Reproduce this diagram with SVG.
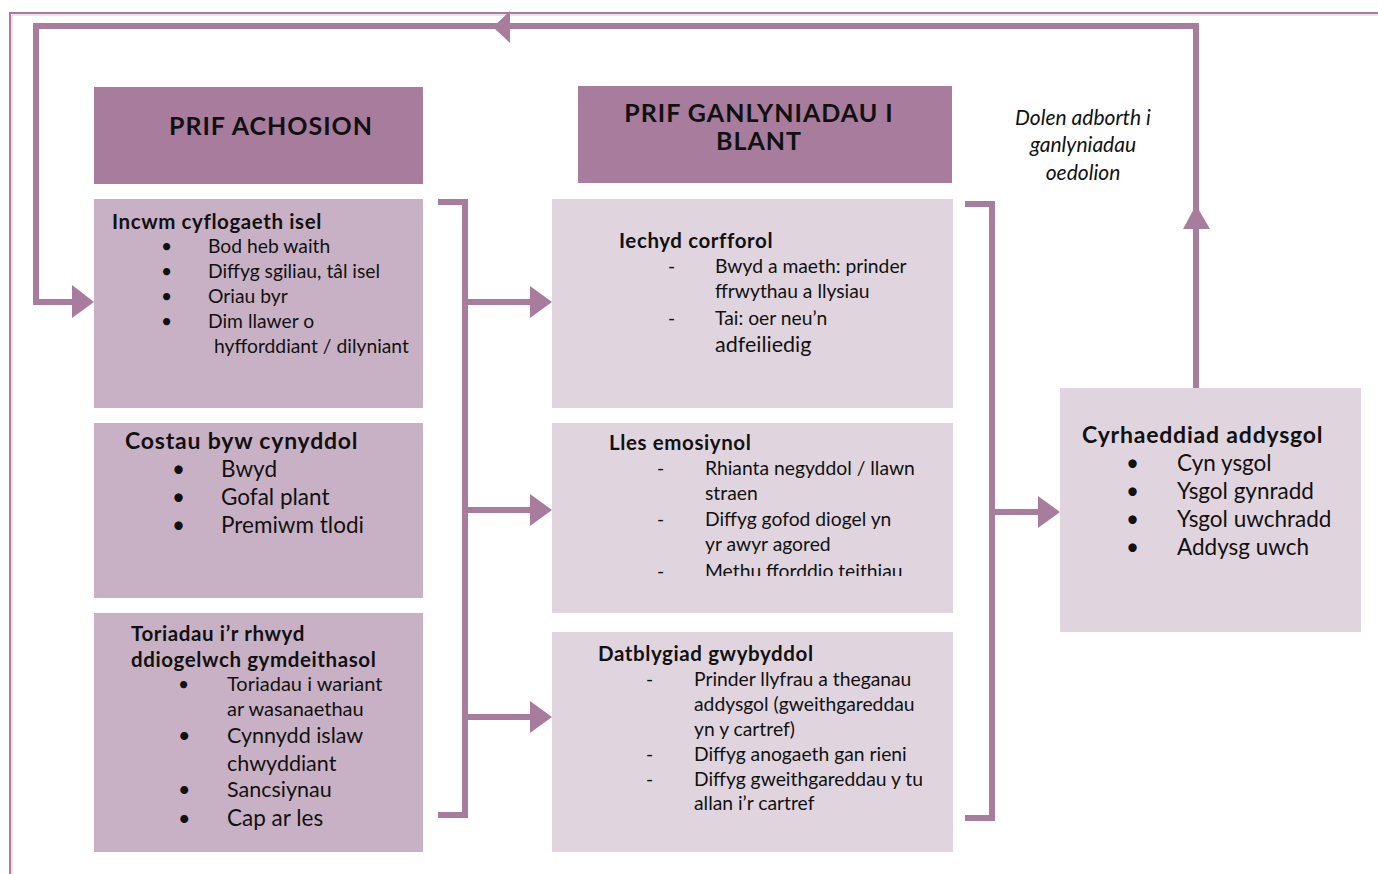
<svg xmlns="http://www.w3.org/2000/svg" width="1378" height="874" viewBox="0 0 1378 874">
<style>
text{font-family:Lato,"Open Sans","Liberation Sans",sans-serif;fill:#111}
.hd{font-weight:bold;font-size:25px;letter-spacing:1px}
.bt{font-weight:bold;font-size:20.5px;letter-spacing:0.6px}
.bt2{font-weight:bold;font-size:23px;letter-spacing:0.8px}
.it{font-size:19.3px}
.it3{font-size:20px}
.it4{font-size:21.5px}
.it2{font-size:22.5px}
.dk{fill:#a87c9c}
.lt{fill:#c9b1c5}
.pl{fill:#e0d5de}
.ln{fill:none;stroke:#a87c9c;stroke-width:6}
.ah{fill:#a87c9c}
.lb{font-style:italic;font-size:21px}
</style>
<defs>
<clipPath id="clipLles"><rect x="552" y="423" width="401" height="153"/></clipPath>
</defs>
<rect width="1378" height="874" fill="#fff"/>
<g id="frame">
<path d="M10,874 V13 H1378" fill="none" stroke="#a87c9c" stroke-width="2"/>
<path d="M12,874 V15 H1378" fill="none" stroke="#d9c6d4" stroke-width="1"/>
</g>
<g id="connectors">
<path class="ln" d="M1196,388 V26 H36 V302 H74"/>
<polygon class="ah" points="510,11 493,27 510,43"/>
<polygon class="ah" points="1196,205 1183,229 1210,229"/>
<polygon class="ah" points="72,285 94,302 72,318"/>
<path class="ln" d="M438,202 H465 V815 H438"/>
<path class="ln" d="M465,302 H532 M465,510 H532 M465,717 H532"/>
<polygon class="ah" points="530,286 552,302 530,318"/>
<polygon class="ah" points="530,494 552,510 530,526"/>
<polygon class="ah" points="530,701 552,717 530,733"/>
<path class="ln" d="M965,204 H992 V818 H965"/>
<path class="ln" d="M992,512 H1040"/>
<polygon class="ah" points="1038,496 1060,512 1038,528"/>
<text class="lb" x="1083" y="125" text-anchor="middle">Dolen adborth i</text>
<text class="lb" x="1083" y="152" text-anchor="middle">ganlyniadau</text>
<text class="lb" x="1083" y="180" text-anchor="middle">oedolion</text>
</g>
<g id="hdr-achosion">
<rect class="dk" x="94" y="87" width="329" height="97"/>
<text class="hd" x="271" y="135" text-anchor="middle">PRIF ACHOSION</text>
</g>
<g id="hdr-ganlyniadau">
<rect class="dk" x="578" y="86" width="374" height="97"/>
<text class="hd" x="759" y="122" text-anchor="middle">PRIF GANLYNIADAU I</text>
<text class="hd" x="759" y="150" text-anchor="middle">BLANT</text>
</g>
<g id="incwm">
<rect class="lt" x="94" y="199" width="329" height="209"/>
<text class="bt" x="112" y="229">Incwm cyflogaeth isel</text>
<text class="it" x="161" y="253">•</text><text class="it" x="208" y="253">Bod heb waith</text>
<text class="it" x="161" y="278">•</text><text class="it" x="208" y="278">Diffyg sgiliau, tâl isel</text>
<text class="it" x="161" y="303">•</text><text class="it" x="208" y="303">Oriau byr</text>
<text class="it" x="161" y="328">•</text><text class="it" x="208" y="328">Dim llawer o</text>
<text class="it" x="214" y="353">hyfforddiant / dilyniant</text>
</g>
<g id="costau">
<rect class="lt" x="94" y="423" width="329" height="175"/>
<text class="bt2" x="125" y="449">Costau byw cynyddol</text>
<text class="it2" x="172" y="477">•</text><text class="it2" x="221" y="477">Bwyd</text>
<text class="it2" x="172" y="505">•</text><text class="it2" x="221" y="505">Gofal plant</text>
<text class="it2" x="172" y="533">•</text><text class="it2" x="221" y="533">Premiwm tlodi</text>
</g>
<g id="toriadau">
<rect class="lt" x="94" y="613" width="329" height="239"/>
<text class="bt" x="131" y="641">Toriadau i’r rhwyd</text>
<text class="bt" x="131" y="667">ddiogelwch gymdeithasol</text>
<text class="it" x="178" y="691">•</text><text class="it3" x="227" y="691">Toriadau i wariant</text>
<text class="it3" x="227" y="716">ar wasanaethau</text>
<text class="it4" x="178" y="743">•</text><text class="it4" x="227" y="743">Cynnydd islaw</text>
<text class="it4" x="227" y="771">chwyddiant</text>
<text class="it4" x="178" y="797">•</text><text class="it4" x="227" y="797">Sancsiynau</text>
<text class="it4" x="178" y="826">•</text><text class="it2" x="227" y="826">Cap ar les</text>
</g>
<g id="iechyd">
<rect class="pl" x="552" y="199" width="401" height="209"/>
<text class="bt" x="619" y="248">Iechyd corfforol</text>
<text class="it" x="668" y="273">-</text><text class="it" x="715" y="273">Bwyd a maeth: prinder</text>
<text class="it" x="715" y="298">ffrwythau a llysiau</text>
<text class="it" x="668" y="325">-</text><text class="it" x="715" y="325">Tai: oer neu’n</text>
<text class="it4" x="715" y="352">adfeiliedig</text>
</g>
<g id="lles">
<rect class="pl" x="552" y="423" width="401" height="190"/>
<text class="bt" x="609" y="450">Lles emosiynol</text>
<text class="it" x="657" y="475">-</text><text class="it" x="705" y="475">Rhianta negyddol / llawn</text>
<text class="it" x="705" y="500">straen</text>
<text class="it" x="657" y="526">-</text><text class="it" x="705" y="526">Diffyg gofod diogel yn</text>
<text class="it" x="705" y="551">yr awyr agored</text>
<g clip-path="url(#clipLles)">
<text class="it" x="657" y="578">-</text><text class="it" x="705" y="578">Methu fforddio teithiau</text>
</g>
</g>
<g id="datblygiad">
<rect class="pl" x="552" y="632" width="401" height="220"/>
<text class="bt" x="598" y="661">Datblygiad gwybyddol</text>
<text class="it" x="646" y="686">-</text><text class="it" x="694" y="686">Prinder llyfrau a theganau</text>
<text class="it" x="694" y="711">addysgol (gweithgareddau</text>
<text class="it" x="694" y="736">yn y cartref)</text>
<text class="it" x="646" y="761">-</text><text class="it" x="694" y="761">Diffyg anogaeth gan rieni</text>
<text class="it" x="646" y="786">-</text><text class="it" x="694" y="786">Diffyg gweithgareddau y tu</text>
<text class="it" x="694" y="810">allan i’r cartref</text>
</g>
<g id="cyrhaeddiad">
<rect class="pl" x="1060" y="388" width="301" height="244"/>
<text class="bt2" x="1082" y="443">Cyrhaeddiad addysgol</text>
<text class="it2" x="1126" y="471">•</text><text class="it2" x="1177" y="471">Cyn ysgol</text>
<text class="it2" x="1126" y="499">•</text><text class="it2" x="1177" y="499">Ysgol gynradd</text>
<text class="it2" x="1126" y="527">•</text><text class="it2" x="1177" y="527">Ysgol uwchradd</text>
<text class="it2" x="1126" y="555">•</text><text class="it2" x="1177" y="555">Addysg uwch</text>
</g>
</svg>
